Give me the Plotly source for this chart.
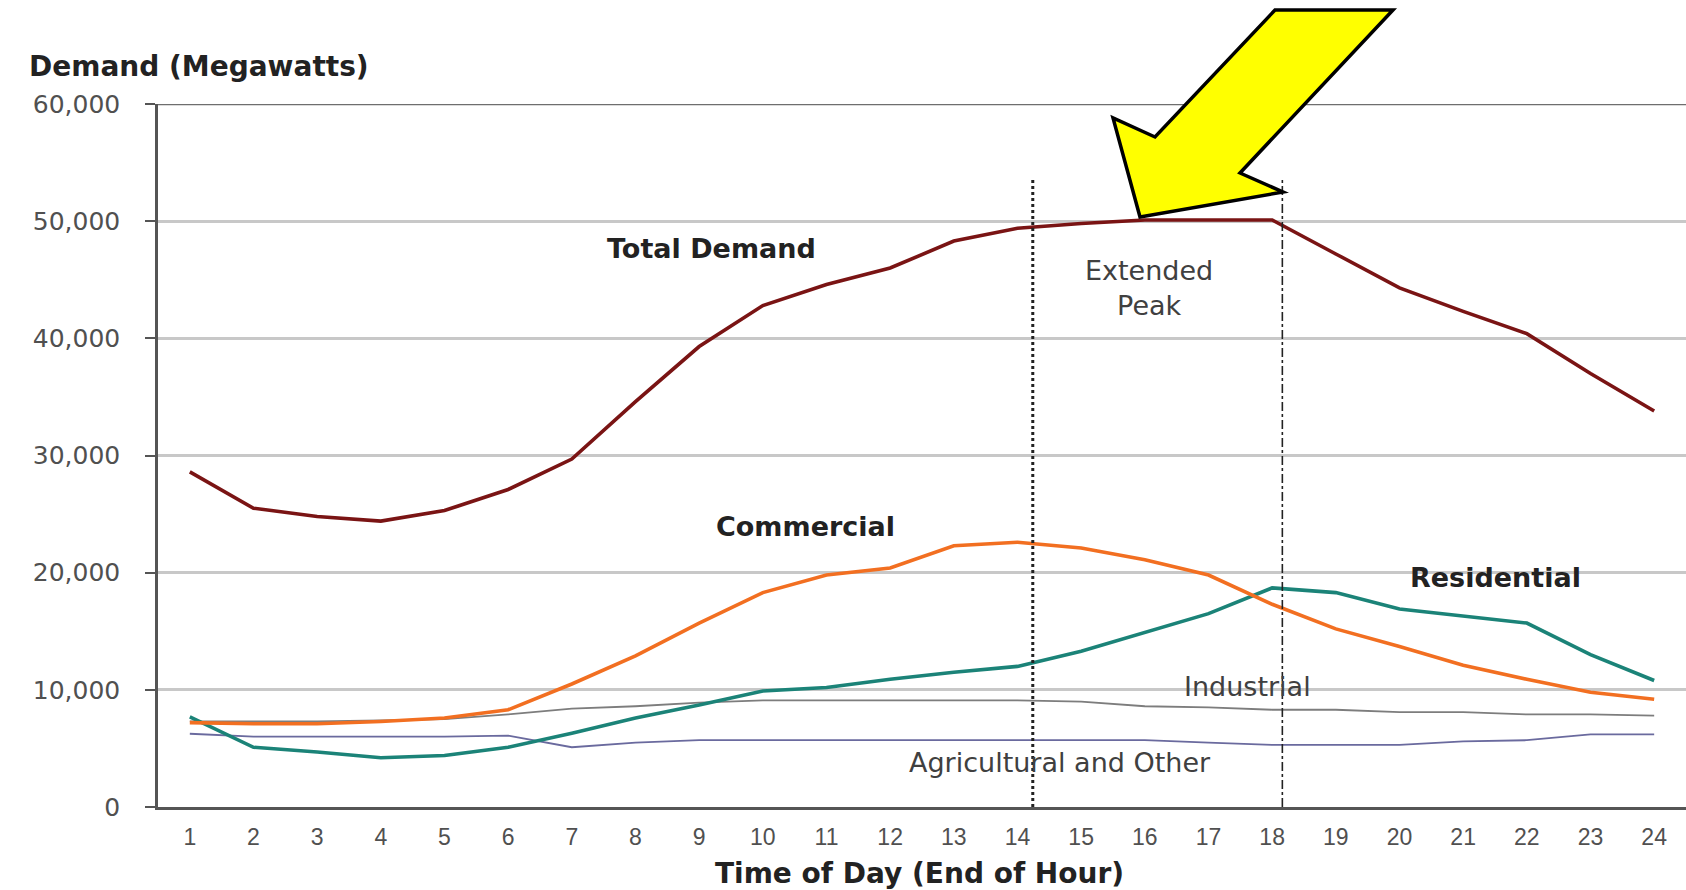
import plotly.graph_objects as go

hours = list(range(1, 25))
total_demand = [28.6, 25.5, 24.8, 24.4, 25.3, 27.1, 29.7, 34.6, 39.3, 42.8, 44.6, 46.0,
                48.3, 49.4, 49.8, 50.1, 50.1, 50.1, 47.2, 44.3, 42.3, 40.4, 37.0, 33.8]
commercial = [7.2, 7.1, 7.1, 7.3, 7.6, 8.3, 10.5, 12.9, 15.7, 18.3, 19.8, 20.4,
              22.3, 22.6, 22.1, 21.1, 19.8, 17.3, 15.2, 13.7, 12.1, 10.9, 9.8, 9.2]
residential = [7.7, 5.1, 4.7, 4.2, 4.4, 5.1, 6.3, 7.6, 8.7, 9.9, 10.2, 10.9,
               11.5, 12.0, 13.3, 14.9, 16.5, 18.7, 18.3, 16.9, 16.3, 15.7, 13.0, 10.8]
industrial = [7.3, 7.3, 7.3, 7.4, 7.5, 7.9, 8.4, 8.6, 8.9, 9.1, 9.1, 9.1,
              9.1, 9.1, 9.0, 8.6, 8.5, 8.3, 8.3, 8.1, 8.1, 7.9, 7.9, 7.8]
agricultural = [6.25, 6.0, 6.0, 6.0, 6.0, 6.1, 5.1, 5.5, 5.7, 5.7, 5.7, 5.7,
                5.7, 5.7, 5.7, 5.7, 5.5, 5.3, 5.3, 5.3, 5.6, 5.7, 6.2, 6.2]
y_ticks = [0, 10000, 20000, 30000, 40000, 50000, 60000]
y_tick_labels = ["0", "10,000", "20,000", "30,000", "40,000", "50,000", "60,000"]
peak_start, peak_end = 14.24, 18.16

def mw(v):
    return [x * 1000 for x in v]

fig = go.Figure()
fig.add_trace(go.Scatter(x=hours, y=mw(agricultural), mode="lines",
                         line=dict(color="#6a6a9e", width=1.8), name="Agricultural and Other"))
fig.add_trace(go.Scatter(x=hours, y=mw(industrial), mode="lines",
                         line=dict(color="#7d7d7d", width=1.8), name="Industrial"))
fig.add_trace(go.Scatter(x=hours, y=mw(residential), mode="lines",
                         line=dict(color="#1b8378", width=3.6), name="Residential"))
fig.add_trace(go.Scatter(x=hours, y=mw(commercial), mode="lines",
                         line=dict(color="#f26f21", width=3.6), name="Commercial"))
fig.add_trace(go.Scatter(x=hours, y=mw(total_demand), mode="lines",
                         line=dict(color="#7a1414", width=3.6), name="Total Demand"))

L, T, B, W, H = 158, 104, 807, 1686, 890
PW, PH = W - L, B - T

def px(xp, yp):
    return (xp - L) / PW, (B - yp) / PH

shapes = []
shapes.append(dict(type="line", xref="paper", yref="y", x0=0, x1=1, y0=60000, y1=60000,
                   line=dict(color="#6e6e6e", width=2.5), layer="below"))
shapes.append(dict(type="line", xref="x", yref="y", x0=peak_start, x1=peak_start, y0=0, y1=53700,
                   line=dict(color="#222222", width=3, dash="dot")))
shapes.append(dict(type="line", xref="x", yref="y", x0=peak_end, x1=peak_end, y0=0, y1=53700,
                   line=dict(color="#222222", width=1.6, dash="dashdot")))
arrow_px = [(1140, 217), (1113, 118), (1155, 137), (1275, 10), (1393, 10),
            (1240, 173), (1283, 192)]
pts = [px(a, b) for a, b in arrow_px]
path = "M " + " L ".join(f"{a:.5f},{b:.5f}" for a, b in pts) + " Z"
shapes.append(dict(type="path", xref="paper", yref="paper", path=path,
                   fillcolor="#ffff00", line=dict(color="#000000", width=3.5)))

ann = []
bold_font = dict(family="DejaVu Sans", size=27, color="#222222")
norm_font = dict(family="DejaVu Sans", size=27, color="#404040")
ann.append(dict(x=9.19, y=47700, xref="x", yref="y", text="<b>Total Demand</b>",
                showarrow=False, font=bold_font))
ann.append(dict(x=10.67, y=23900, xref="x", yref="y", text="<b>Commercial</b>",
                showarrow=False, font=bold_font))
ann.append(dict(x=21.5, y=19600, xref="x", yref="y", text="<b>Residential</b>",
                showarrow=False, font=bold_font))
ann.append(dict(x=17.62, y=10300, xref="x", yref="y", text="Industrial",
                showarrow=False, font=norm_font))
ann.append(dict(x=14.67, y=3800, xref="x", yref="y", text="Agricultural and Other",
                showarrow=False, font=norm_font))
ann.append(dict(x=16.06, y=44300, xref="x", yref="y", text="Extended<br>Peak",
                showarrow=False, font=norm_font))
ax_, ay_ = px(27, 66)
ann.append(dict(x=ax_, y=ay_, xref="paper", yref="paper", text="<b>Demand (Megawatts)</b>",
                xanchor="left", yanchor="middle", showarrow=False,
                font=dict(family="DejaVu Sans", size=28, color="#222222")))
tx_, ty_ = px(919, 873)
ann.append(dict(x=tx_, y=ty_, xref="paper", yref="paper", text="<b>Time of Day (End of Hour)</b>",
                xanchor="center", yanchor="middle", showarrow=False,
                font=dict(family="DejaVu Sans", size=28, color="#222222")))

fig.update_layout(
    width=W, height=H,
    margin=dict(l=L, r=0, t=T, b=H - B, pad=0),
    paper_bgcolor="white", plot_bgcolor="white",
    showlegend=False,
    shapes=shapes, annotations=ann,
    xaxis=dict(range=[0.5, 24.5], tickmode="array", tickvals=hours,
               ticktext=[str(h) for h in hours], showgrid=False, zeroline=False,
               showline=True, linecolor="#555555", linewidth=2.5, ticks="",
               ticklabelstandoff=8,
               tickfont=dict(family="Liberation Sans", size=23, color="#505050")),
    yaxis=dict(range=[0, 60000], tickmode="array", tickvals=y_ticks, ticktext=y_tick_labels,
               showgrid=True, gridcolor="#c8c8c8", gridwidth=2.5, zeroline=False,
               showline=True, linecolor="#555555", linewidth=2.5,
               ticks="outside", ticklen=10, tickcolor="#555555", tickwidth=2,
               ticklabelstandoff=20,
               tickfont=dict(family="DejaVu Sans", size=25, color="#505050")),
)

fig.write_html("out.html")
